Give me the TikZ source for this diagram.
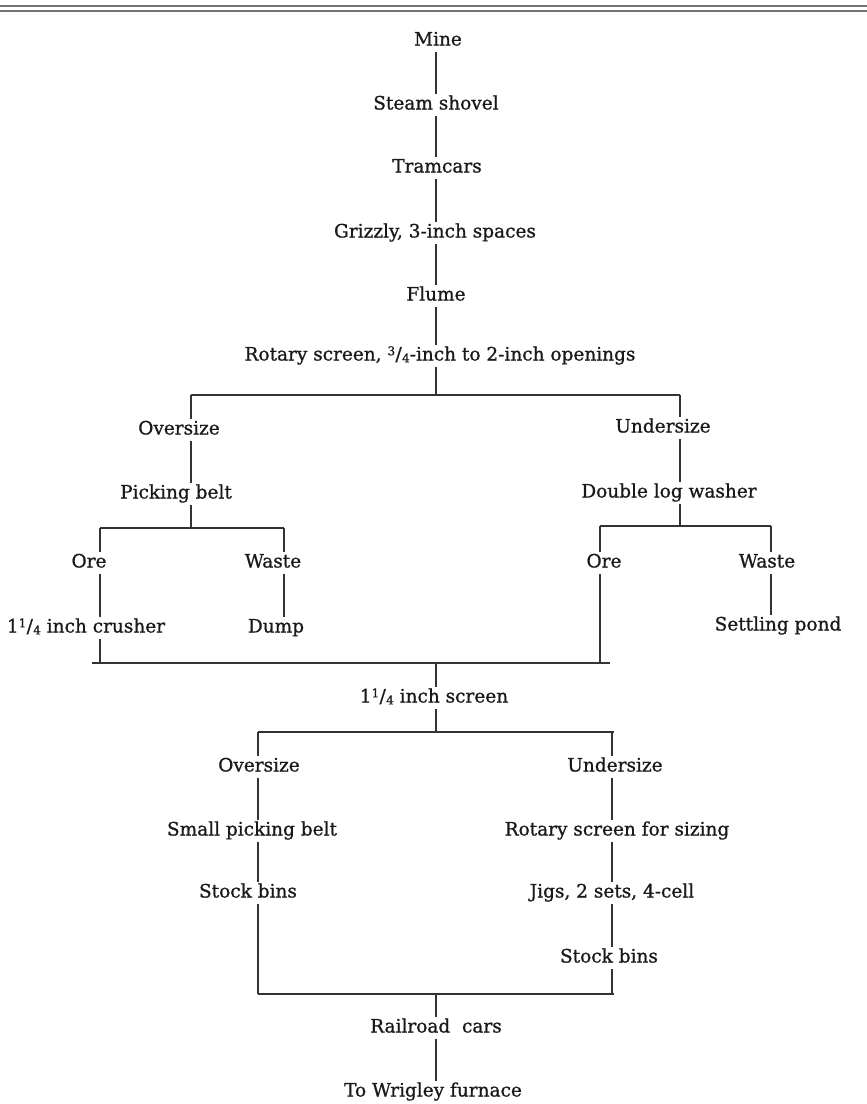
\documentclass[tikz,border=0pt]{standalone}
\usepackage{fontspec}
\setmainfont[FakeBold=0.9]{DejaVu Serif}
% printed vulgar fraction: raised numerator, fraction slash, lowered denominator
\newcommand{\vulg}[2]{\raisebox{0.55ex}{\fontsize{12}{12}\selectfont #1}\kern0.02em/\kern0.02em\raisebox{-0.2ex}{\fontsize{12}{12}\selectfont #2}}
\begin{document}
\begin{tikzpicture}[x=1pt,y=-1pt,
  lbl/.style={font=\fontsize{18.5}{22}\selectfont, inner sep=0pt, outer sep=2.5pt,
              text height=13pt, text depth=4pt, text=black!90},
  flow/.style={draw=black!80, line width=1.2pt},
  bar/.style={draw=black!80, line width=1.7pt},
  rule/.style={draw=black!55, line width=1.4pt}]
\useasboundingbox (0,0) rectangle (867,1104);
\fill[white] (0,0) rectangle (867,1104);

% heading rules
\coordinate (hl) at (0,6);  \coordinate (hr) at (867,6);
\coordinate (hl2) at (0,11); \coordinate (hr2) at (867,11);
\draw[rule] (hl) -- (hr);
\draw[rule] (hl2) -- (hr2);

% column guides
\coordinate (cM) at (436,0);
\coordinate (cA) at (191,0);
\coordinate (cB) at (680,0);
\coordinate (cC) at (100,0);
\coordinate (cD) at (284,0);
\coordinate (cE) at (600,0);
\coordinate (cF) at (771,0);
\coordinate (cG) at (258,0);
\coordinate (cH) at (612,0);

% main column
\node[lbl] (mine)   at (438,41)  {Mine};
\node[lbl] (shovel) at (436,105) {Steam shovel};
\node[lbl] (tram)   at (437,168) {Tramcars};
\node[lbl] (griz)   at (435,233) {Grizzly, 3-inch spaces};
\node[lbl] (flume)  at (436,296) {Flume};
\node[lbl] (rot)    at (440,356) {Rotary screen, \vulg{3}{4}-inch to 2-inch openings};

% first split
\node[lbl] (over1) at (179,430) {Oversize};
\node[lbl] (pick)  at (176,494) {Picking belt};
\node[lbl] (ore1)  at (89,563)  {Ore};
\node[lbl] (wst1)  at (273,563) {Waste};
\node[lbl] (crush) at (86,628)  {1\vulg{1}{4} inch crusher};
\node[lbl] (dump)  at (276,628) {Dump};

\node[lbl] (under1) at (663,428) {Undersize};
\node[lbl] (wash)   at (669,493) {Double log washer};
\node[lbl] (ore2)   at (604,563) {Ore};
\node[lbl] (wst2)   at (767,563) {Waste};
\node[lbl] (pond)   at (778,626) {Settling pond};

% second screen
\node[lbl] (scr) at (434,698) {1\vulg{1}{4} inch screen};
\node[lbl] (over2)  at (259,767) {Oversize};
\node[lbl] (small)  at (252,831) {Small picking belt};
\node[lbl] (stock1) at (248,893) {Stock bins};
\node[lbl] (under2) at (615,767) {Undersize};
\node[lbl] (rsize)  at (617,831) {Rotary screen for sizing};
\node[lbl] (jigs)   at (612,893) {Jigs, 2 sets, 4-cell};
\node[lbl] (stock2) at (609,958) {Stock bins};
\node[lbl] (rail)   at (436,1028) {Railroad\ \ cars};
\node[lbl] (wrig)   at (433,1092) {To\ Wrigley\ furnace};

% junction bars
\coordinate (b1L) at (191,395); \coordinate (b1R) at (680,395);
\coordinate (b2L) at (100,528); \coordinate (b2R) at (284,528);
\coordinate (b2rL) at (600,526); \coordinate (b2rR) at (771,526);
\coordinate (b3L) at (92,663);  \coordinate (b3R) at (610,663);
\coordinate (b4L) at (258,732); \coordinate (b4R) at (614,732);
\coordinate (b5L) at (258,994); \coordinate (b5R) at (614,994);

\draw[bar] (b1L) -- (b1R);
\draw[bar] (b2L) -- (b2R);
\draw[bar] (b2rL) -- (b2rR);
\draw[bar] (b3L) -- (b3R);
\draw[bar] (b4L) -- (b4R);
\draw[bar] (b5L) -- (b5R);

% main column connectors
\draw[flow] (mine.south -| cM)   -- (shovel.north -| cM);
\draw[flow] (shovel.south -| cM) -- (tram.north -| cM);
\draw[flow] (tram.south -| cM)   -- (griz.north -| cM);
\draw[flow] (griz.south -| cM)   -- (flume.north -| cM);
\draw[flow] (flume.south -| cM)  -- (rot.north -| cM);
\draw[flow] (rot.south -| cM)    -- (b1L -| cM);

% oversize branch
\draw[flow] (b1L) -- (over1.north -| cA);
\draw[flow] (over1.south -| cA) -- (pick.north -| cA);
\draw[flow] (pick.south -| cA) -- (b2L -| cA);
\draw[flow] (b2L) -- (ore1.north -| cC);
\draw[flow] (ore1.south -| cC) -- (crush.north -| cC);
\draw[flow] (crush.south -| cC) -- (b3L -| cC);
\draw[flow] (b2R) -- (wst1.north -| cD);
\draw[flow] (wst1.south -| cD) -- (dump.north -| cD);

% undersize branch
\draw[flow] (b1R) -- (under1.north -| cB);
\draw[flow] (under1.south -| cB) -- (wash.north -| cB);
\draw[flow] (wash.south -| cB) -- (b2rL -| cB);
\draw[flow] (b2rL) -- (ore2.north -| cE);
\draw[flow] (ore2.south -| cE) -- (b3L -| cE);
\draw[flow] (b2rR) -- (wst2.north -| cF);
\draw[flow] (wst2.south -| cF) -- (pond.north -| cF);

% second screen
\draw[flow] (b3L -| cM) -- (scr.north -| cM);
\draw[flow] (scr.south -| cM) -- (b4L -| cM);
\draw[flow] (b4L) -- (over2.north -| cG);
\draw[flow] (over2.south -| cG) -- (small.north -| cG);
\draw[flow] (small.south -| cG) -- (stock1.north -| cG);
\draw[flow] (stock1.south -| cG) -- (b5L);
\draw[flow] (b4L -| cH) -- (under2.north -| cH);
\draw[flow] (under2.south -| cH) -- (rsize.north -| cH);
\draw[flow] (rsize.south -| cH) -- (jigs.north -| cH);
\draw[flow] (jigs.south -| cH) -- (stock2.north -| cH);
\draw[flow] (stock2.south -| cH) -- (b5L -| cH);

% shipping
\draw[flow] (b5L -| cM) -- (rail.north -| cM);
\draw[flow] (rail.south -| cM) -- (wrig.north -| cM);
\end{tikzpicture}
\end{document}
